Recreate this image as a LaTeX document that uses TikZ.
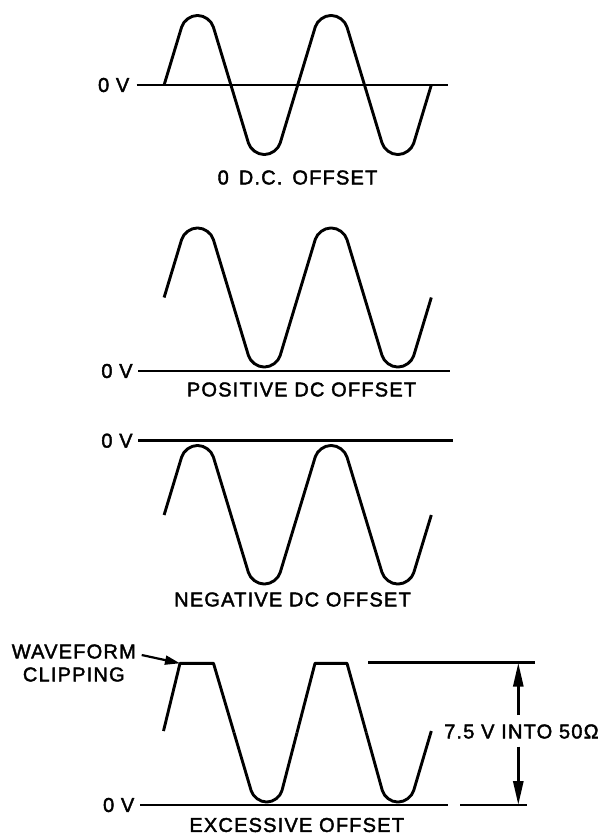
\documentclass[tikz,border=0pt]{standalone}
\usepackage{fontspec}
\newfontfamily\lblfont{Liberation Sans}[LetterSpace=6,FakeBold=2]
\usetikzlibrary{arrows.meta}
\begin{document}
\begin{tikzpicture}[x=1pt,y=-1pt,
  wave/.style={line width=2.9pt,line join=round},
  rwave/.style={wave,rounded corners=12pt},
  axis/.style={line width=2.5pt},
  lbl/.style={inner sep=0pt,font=\lblfont\fontsize{20}{23}\selectfont},
  dim/.style={line width=2.8pt,-{Triangle[length=24pt,width=10pt]}},
  callout/.style={line width=2.2pt,-{Triangle[length=15pt,width=9pt]}}]
\useasboundingbox (0,0) rectangle (604,838);

% ---------- 0 D.C. OFFSET ----------
\draw[axis] (136.7,85) -- (448.3,85);
\node[lbl,anchor=east] (zv1) at (129.5,85) {0 V};
\draw[rwave] (164.1,85) -- (185.1,15.5) -- (209.9,15.5) -- (251.9,154.5) -- (276.7,154.5)
  -- (318.7,15.5) -- (343.5,15.5) -- (385.5,154.5) -- (410.3,154.5) -- (431.3,85);
\node[lbl] (t1) at (297.5,177.5) {\spaceskip=0.5em 0 D.C. OFFSET};

% ---------- POSITIVE DC OFFSET ----------
\draw[axis] (138.3,371) -- (450,371);
\node[lbl,anchor=east] (zv2) at (132.8,371) {0 V};
\draw[rwave] (164.1,297.5) -- (185.1,228) -- (209.9,228) -- (251.9,367) -- (276.7,367)
  -- (318.7,228) -- (343.5,228) -- (385.5,367) -- (410.3,367) -- (431.3,297.5);
\node[lbl] (t2) at (301.5,389.5) {POSITIVE DC OFFSET};

% ---------- NEGATIVE DC OFFSET ----------
\draw[axis] (138.3,440.7) -- (453,440.7);
\node[lbl,anchor=east] (zv3) at (132.8,440.7) {0 V};
\draw[rwave] (164.1,515) -- (185.1,445.5) -- (209.9,445.5) -- (251.9,584) -- (276.7,584)
  -- (318.7,445.5) -- (343.5,445.5) -- (385.5,584) -- (410.3,584) -- (431.3,515);
\node[lbl] (t3) at (292.5,599.5) {NEGATIVE DC OFFSET};

% ---------- EXCESSIVE OFFSET ----------
\draw[axis] (140,805) -- (448.3,805);
\draw[axis] (460,805) -- (526.7,805);
\draw[axis] (368.3,662.7) -- (535,662.7);
\node[lbl,anchor=east] (zv4) at (134.5,805) {0 V};
\draw[wave] (163.5,731) -- (180,663.3) -- (213.5,663.3) -- (234,732.65);
\draw[rwave] (234,732.65) -- (254.5,802) -- (279,802) -- (297,732.65);
\draw[wave] (297,732.65) -- (315,663.3) -- (347,663.3) -- (366.25,732.65);
\draw[rwave] (366.25,732.65) -- (385.5,802) -- (410.3,802) -- (431.3,731);
\node[lbl] (t4) at (296.7,825) {EXCESSIVE OFFSET};

% clipping call-out
\node[lbl,align=center] (clip) at (73.8,663) {WAVEFORM\\CLIPPING};
\coordinate (clipstart) at (141.7,655);
\coordinate (clipcorner) at (180,663.3);
\draw[callout] (clipstart) -- (clipcorner);

% amplitude dimension
\node[lbl,anchor=west] (amp) at (444,731.5) {7.5 V INTO 50Ω};
\coordinate (dimtop) at (518.3,662.7);
\coordinate (dimup) at (518.3,715);
\coordinate (dimlow) at (518.3,746.7);
\coordinate (dimbot) at (518.3,805);
\draw[dim] (dimup) -- (dimtop);
\draw[dim] (dimlow) -- (dimbot);
\end{tikzpicture}
\end{document}
